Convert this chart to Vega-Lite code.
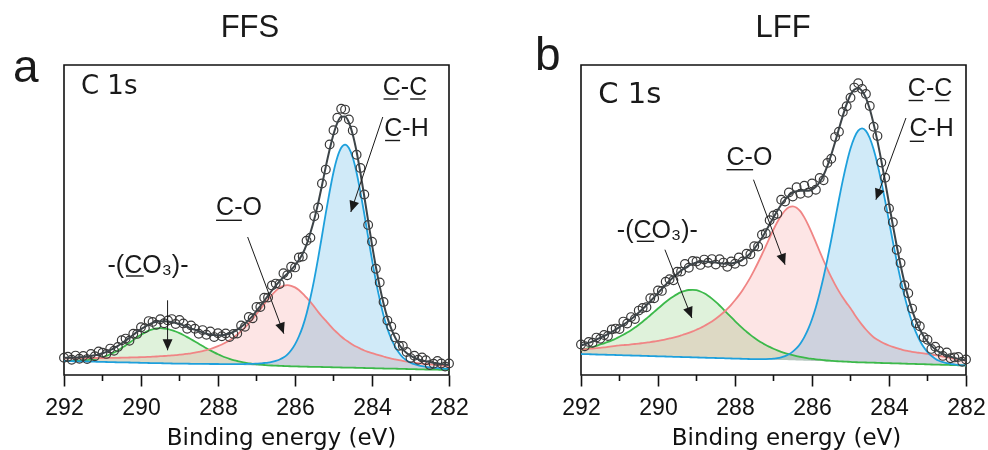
{
"$schema": "https://vega.github.io/schema/vega-lite/v6.json",
"background": "white",
"padding": {"left": 12, "top": 11, "right": 0, "bottom": 0},
"autosize": {"type": "pad"},
"bounds": "flush",
"spacing": 132,
"config": {
  "font": "Liberation Sans",
  "view": {"stroke": "#111111", "strokeWidth": 1.6},
  "axis": {"labelFont": "Liberation Sans", "titleFont": "DejaVu Sans"}
},
"datasets": {
"curves": [
{"p":"a","E":282.0,"bg":5.0,"cc":6.0,"co":9.0,"co3":5.0,"env":10.0,"pt":11.5},
{"p":"a","E":282.1,"bg":5.1,"cc":6.3,"co":9.3,"co3":5.1,"env":10.5,"pt":8.5},
{"p":"a","E":282.2,"bg":5.2,"cc":6.6,"co":9.7,"co3":5.2,"env":11.1,"pt":11.6},
{"p":"a","E":282.3,"bg":5.3,"cc":6.9,"co":10.0,"co3":5.3,"env":11.6,"pt":14.1},
{"p":"a","E":282.4,"bg":5.4,"cc":7.3,"co":10.4,"co3":5.4,"env":12.3,"pt":11.3},
{"p":"a","E":282.5,"bg":5.5,"cc":7.7,"co":10.7,"co3":5.5,"env":12.9,"pt":9.9},
{"p":"a","E":282.6,"bg":5.5,"cc":8.2,"co":11.0,"co3":5.5,"env":13.7,"pt":14.7},
{"p":"a","E":282.7,"bg":5.6,"cc":8.8,"co":11.4,"co3":5.6,"env":14.6,"pt":17.6},
{"p":"a","E":282.8,"bg":5.7,"cc":9.7,"co":11.8,"co3":5.7,"env":15.8,"pt":15.3},
{"p":"a","E":282.9,"bg":5.8,"cc":10.8,"co":12.3,"co3":5.8,"env":17.3,"pt":19.3},
{"p":"a","E":283.0,"bg":5.9,"cc":12.4,"co":12.9,"co3":5.9,"env":19.4,"pt":16.9},
{"p":"a","E":283.1,"bg":6.0,"cc":14.5,"co":13.5,"co3":6.0,"env":22.0,"pt":23.0},
{"p":"a","E":283.2,"bg":6.1,"cc":17.6,"co":14.1,"co3":6.1,"env":25.6,"pt":29.1},
{"p":"a","E":283.3,"bg":6.2,"cc":22.2,"co":14.8,"co3":6.2,"env":30.8,"pt":29.3},
{"p":"a","E":283.4,"bg":6.3,"cc":28.3,"co":15.6,"co3":6.3,"env":37.6,"pt":37.6},
{"p":"a","E":283.5,"bg":6.4,"cc":36.4,"co":16.4,"co3":6.4,"env":46.4,"pt":48.4},
{"p":"a","E":283.6,"bg":6.4,"cc":46.4,"co":17.4,"co3":6.4,"env":57.4,"pt":54.4},
{"p":"a","E":283.7,"bg":6.5,"cc":59.5,"co":18.5,"co3":6.5,"env":71.5,"pt":73.0},
{"p":"a","E":283.8,"bg":6.6,"cc":75.6,"co":19.6,"co3":6.6,"env":88.6,"pt":92.6},
{"p":"a","E":283.9,"bg":6.7,"cc":94.2,"co":20.7,"co3":6.7,"env":108.2,"pt":106.2},
{"p":"a","E":284.0,"bg":6.8,"cc":115.3,"co":21.8,"co3":6.8,"env":130.3,"pt":133.3},
{"p":"a","E":284.1,"bg":6.9,"cc":137.9,"co":23.1,"co3":6.9,"env":154.1,"pt":150.1},
{"p":"a","E":284.2,"bg":7.0,"cc":161.0,"co":24.5,"co3":7.0,"env":178.5,"pt":180.5},
{"p":"a","E":284.3,"bg":7.1,"cc":182.8,"co":26.3,"co3":7.1,"env":202.0,"pt":207.0},
{"p":"a","E":284.4,"bg":7.2,"cc":202.3,"co":28.2,"co3":7.2,"env":223.3,"pt":220.3},
{"p":"a","E":284.5,"bg":7.3,"cc":217.4,"co":30.3,"co3":7.3,"env":240.4,"pt":244.4},
{"p":"a","E":284.6,"bg":7.3,"cc":227.0,"co":32.8,"co3":7.3,"env":252.5,"pt":255.5},
{"p":"a","E":284.7,"bg":7.4,"cc":230.4,"co":35.4,"co3":7.4,"env":258.4,"pt":265.4},
{"p":"a","E":284.8,"bg":7.5,"cc":227.2,"co":38.5,"co3":7.5,"env":258.2,"pt":266.2},
{"p":"a","E":284.9,"bg":7.6,"cc":217.7,"co":42.1,"co3":7.6,"env":252.2,"pt":257.2},
{"p":"a","E":285.0,"bg":7.7,"cc":202.8,"co":45.7,"co3":7.7,"env":240.8,"pt":244.8},
{"p":"a","E":285.1,"bg":7.8,"cc":183.5,"co":49.8,"co3":7.8,"env":225.5,"pt":230.5},
{"p":"a","E":285.2,"bg":7.9,"cc":161.9,"co":54.4,"co3":7.9,"env":208.4,"pt":205.4},
{"p":"a","E":285.3,"bg":8.0,"cc":139.0,"co":58.5,"co3":8.0,"env":189.5,"pt":191.5},
{"p":"a","E":285.4,"bg":8.1,"cc":116.6,"co":63.1,"co3":8.1,"env":171.6,"pt":167.6},
{"p":"a","E":285.5,"bg":8.2,"cc":95.7,"co":68.2,"co3":8.2,"env":155.7,"pt":158.7},
{"p":"a","E":285.6,"bg":8.2,"cc":77.2,"co":73.2,"co3":8.2,"env":142.2,"pt":137.2},
{"p":"a","E":285.7,"bg":8.3,"cc":61.3,"co":77.3,"co3":8.3,"env":130.3,"pt":134.3},
{"p":"a","E":285.8,"bg":8.4,"cc":48.4,"co":81.4,"co3":8.4,"env":121.4,"pt":118.4},
{"p":"a","E":285.9,"bg":8.5,"cc":38.5,"co":85.0,"co3":8.5,"env":115.0,"pt":117.5},
{"p":"a","E":286.0,"bg":8.6,"cc":30.6,"co":87.6,"co3":8.6,"env":109.6,"pt":107.6},
{"p":"a","E":286.1,"bg":8.7,"cc":24.7,"co":89.2,"co3":8.7,"env":105.2,"pt":108.2},
{"p":"a","E":286.2,"bg":8.8,"cc":20.3,"co":89.8,"co3":8.8,"env":101.3,"pt":99.8},
{"p":"a","E":286.3,"bg":8.9,"cc":17.4,"co":89.2,"co3":9.0,"env":97.8,"pt":101.8},
{"p":"a","E":286.4,"bg":9.0,"cc":15.5,"co":87.2,"co3":9.2,"env":93.9,"pt":90.9},
{"p":"a","E":286.5,"bg":9.1,"cc":14.1,"co":84.1,"co3":9.4,"env":89.4,"pt":91.4},
{"p":"a","E":286.6,"bg":9.1,"cc":13.1,"co":80.1,"co3":9.5,"env":84.5,"pt":89.5},
{"p":"a","E":286.7,"bg":9.2,"cc":12.4,"co":75.7,"co3":9.7,"env":79.4,"pt":77.4},
{"p":"a","E":286.8,"bg":9.3,"cc":12.0,"co":70.8,"co3":10.0,"env":74.2,"pt":77.2},
{"p":"a","E":286.9,"bg":9.4,"cc":11.6,"co":65.9,"co3":10.3,"env":69.0,"pt":68.0},
{"p":"a","E":287.0,"bg":9.5,"cc":11.4,"co":61.0,"co3":10.7,"env":64.1,"pt":68.1},
{"p":"a","E":287.1,"bg":9.6,"cc":11.2,"co":56.1,"co3":11.1,"env":59.2,"pt":56.7},
{"p":"a","E":287.2,"bg":9.7,"cc":11.1,"co":51.7,"co3":11.7,"env":55.1,"pt":58.1},
{"p":"a","E":287.3,"bg":9.8,"cc":11.0,"co":47.6,"co3":12.3,"env":51.3,"pt":48.3},
{"p":"a","E":287.4,"bg":9.9,"cc":10.9,"co":43.9,"co3":13.1,"env":48.1,"pt":49.6},
{"p":"a","E":287.5,"bg":10.0,"cc":10.9,"co":40.5,"co3":14.0,"env":45.4,"pt":41.4},
{"p":"a","E":287.6,"bg":10.0,"cc":10.8,"co":37.4,"co3":14.9,"env":43.1,"pt":41.1},
{"p":"a","E":287.7,"bg":10.1,"cc":10.8,"co":34.8,"co3":16.1,"env":41.5,"pt":38.0},
{"p":"a","E":287.8,"bg":10.2,"cc":10.9,"co":32.5,"co3":17.5,"env":40.5,"pt":41.5},
{"p":"a","E":287.9,"bg":10.3,"cc":10.9,"co":30.5,"co3":19.0,"env":39.8,"pt":38.8},
{"p":"a","E":288.0,"bg":10.4,"cc":11.0,"co":28.8,"co3":20.7,"env":39.7,"pt":41.7},
{"p":"a","E":288.1,"bg":10.5,"cc":11.0,"co":27.3,"co3":22.6,"env":39.9,"pt":37.9},
{"p":"a","E":288.2,"bg":10.6,"cc":11.0,"co":26.0,"co3":24.6,"env":40.5,"pt":43.5},
{"p":"a","E":288.3,"bg":10.7,"cc":11.1,"co":24.9,"co3":26.7,"env":41.3,"pt":40.3},
{"p":"a","E":288.4,"bg":10.8,"cc":11.1,"co":23.9,"co3":29.0,"env":42.4,"pt":44.9},
{"p":"a","E":288.5,"bg":10.9,"cc":11.2,"co":23.1,"co3":31.3,"env":43.8,"pt":41.3},
{"p":"a","E":288.6,"bg":10.9,"cc":11.2,"co":22.3,"co3":33.5,"env":45.2,"pt":46.2},
{"p":"a","E":288.7,"bg":11.0,"cc":11.2,"co":21.7,"co3":35.7,"env":46.6,"pt":49.6},
{"p":"a","E":288.8,"bg":11.1,"cc":11.3,"co":21.2,"co3":37.9,"env":48.2,"pt":46.2},
{"p":"a","E":288.9,"bg":11.2,"cc":11.3,"co":20.7,"co3":40.0,"env":49.6,"pt":51.6},
{"p":"a","E":289.0,"bg":11.3,"cc":11.4,"co":20.3,"co3":41.9,"env":51.0,"pt":55.0},
{"p":"a","E":289.1,"bg":11.4,"cc":11.4,"co":19.9,"co3":43.5,"env":52.0,"pt":51.0},
{"p":"a","E":289.2,"bg":11.5,"cc":11.5,"co":19.6,"co3":44.8,"env":52.9,"pt":55.9},
{"p":"a","E":289.3,"bg":11.6,"cc":11.6,"co":19.3,"co3":45.9,"env":53.6,"pt":54.6},
{"p":"a","E":289.4,"bg":11.7,"cc":11.7,"co":19.0,"co3":46.5,"env":53.8,"pt":51.8},
{"p":"a","E":289.5,"bg":11.8,"cc":11.8,"co":18.8,"co3":46.8,"env":53.8,"pt":55.8},
{"p":"a","E":289.6,"bg":11.8,"cc":11.8,"co":18.5,"co3":46.5,"env":53.2,"pt":50.2},
{"p":"a","E":289.7,"bg":11.9,"cc":11.9,"co":18.3,"co3":45.7,"env":52.1,"pt":53.1},
{"p":"a","E":289.8,"bg":12.0,"cc":12.0,"co":18.1,"co3":44.3,"env":50.4,"pt":53.9},
{"p":"a","E":289.9,"bg":12.1,"cc":12.1,"co":17.9,"co3":42.4,"env":48.2,"pt":46.7},
{"p":"a","E":290.0,"bg":12.2,"cc":12.2,"co":17.8,"co3":40.2,"env":45.8,"pt":47.8},
{"p":"a","E":290.1,"bg":12.3,"cc":12.3,"co":17.7,"co3":37.7,"env":43.1,"pt":41.1},
{"p":"a","E":290.2,"bg":12.4,"cc":12.4,"co":17.6,"co3":35.0,"env":40.2,"pt":41.2},
{"p":"a","E":290.3,"bg":12.5,"cc":12.5,"co":17.5,"co3":32.3,"env":37.3,"pt":34.3},
{"p":"a","E":290.4,"bg":12.6,"cc":12.6,"co":17.4,"co3":29.6,"env":34.4,"pt":36.4},
{"p":"a","E":290.5,"bg":12.7,"cc":12.7,"co":17.3,"co3":27.1,"env":31.7,"pt":34.7},
{"p":"a","E":290.6,"bg":12.7,"cc":12.7,"co":17.2,"co3":24.6,"env":29.1,"pt":28.1},
{"p":"a","E":290.7,"bg":12.8,"cc":12.8,"co":17.1,"co3":22.5,"env":26.8,"pt":24.3},
{"p":"a","E":290.8,"bg":12.9,"cc":12.9,"co":17.1,"co3":20.7,"env":24.9,"pt":26.4},
{"p":"a","E":290.9,"bg":13.0,"cc":13.0,"co":17.0,"co3":19.1,"env":23.1,"pt":21.1},
{"p":"a","E":291.0,"bg":13.1,"cc":13.1,"co":17.0,"co3":17.8,"env":21.7,"pt":22.2},
{"p":"a","E":291.1,"bg":13.2,"cc":13.2,"co":17.0,"co3":16.8,"env":20.6,"pt":23.6},
{"p":"a","E":291.2,"bg":13.3,"cc":13.3,"co":17.0,"co3":16.0,"env":19.7,"pt":18.7},
{"p":"a","E":291.3,"bg":13.4,"cc":13.4,"co":17.0,"co3":15.4,"env":19.0,"pt":21.0},
{"p":"a","E":291.4,"bg":13.5,"cc":13.5,"co":17.0,"co3":14.9,"env":18.4,"pt":15.9},
{"p":"a","E":291.5,"bg":13.6,"cc":13.6,"co":17.0,"co3":14.6,"env":18.0,"pt":19.0},
{"p":"a","E":291.6,"bg":13.6,"cc":13.6,"co":16.9,"co3":14.4,"env":17.7,"pt":16.2},
{"p":"a","E":291.7,"bg":13.7,"cc":13.7,"co":16.9,"co3":14.2,"env":17.4,"pt":19.4},
{"p":"a","E":291.8,"bg":13.8,"cc":13.8,"co":16.9,"co3":14.2,"env":17.3,"pt":15.3},
{"p":"a","E":291.9,"bg":13.9,"cc":13.9,"co":16.9,"co3":14.2,"env":17.2,"pt":18.2},
{"p":"a","E":292.0,"bg":14.0,"cc":14.0,"co":17.0,"co3":14.2,"env":17.2,"pt":17.2},
{"p":"b","E":282.0,"bg":9.5,"cc":9.6,"co":14.5,"co3":9.5,"env":14.6,"pt":15.6},
{"p":"b","E":282.1,"bg":9.6,"cc":9.8,"co":15.1,"co3":9.6,"env":15.3,"pt":13.3},
{"p":"b","E":282.2,"bg":9.7,"cc":10.1,"co":15.7,"co3":9.7,"env":16.1,"pt":18.1},
{"p":"b","E":282.3,"bg":9.9,"cc":10.6,"co":16.4,"co3":9.9,"env":17.1,"pt":17.6},
{"p":"b","E":282.4,"bg":10.0,"cc":11.1,"co":17.1,"co3":10.0,"env":18.2,"pt":16.7},
{"p":"b","E":282.5,"bg":10.1,"cc":11.8,"co":17.8,"co3":10.1,"env":19.5,"pt":22.5},
{"p":"b","E":282.6,"bg":10.2,"cc":12.8,"co":18.5,"co3":10.2,"env":21.1,"pt":19.1},
{"p":"b","E":282.7,"bg":10.3,"cc":14.2,"co":19.2,"co3":10.3,"env":23.1,"pt":24.1},
{"p":"b","E":282.8,"bg":10.4,"cc":16.3,"co":19.8,"co3":10.4,"env":25.7,"pt":28.2},
{"p":"b","E":282.9,"bg":10.5,"cc":19.2,"co":20.4,"co3":10.5,"env":29.1,"pt":26.1},
{"p":"b","E":283.0,"bg":10.7,"cc":22.9,"co":21.1,"co3":10.7,"env":33.3,"pt":35.3},
{"p":"b","E":283.1,"bg":10.8,"cc":27.9,"co":21.6,"co3":10.8,"env":38.7,"pt":37.7},
{"p":"b","E":283.2,"bg":10.9,"cc":34.5,"co":22.1,"co3":10.9,"env":45.7,"pt":48.7},
{"p":"b","E":283.3,"bg":11.0,"cc":42.6,"co":22.6,"co3":11.0,"env":54.2,"pt":51.7},
{"p":"b","E":283.4,"bg":11.1,"cc":52.8,"co":23.2,"co3":11.1,"env":64.9,"pt":66.4},
{"p":"b","E":283.5,"bg":11.2,"cc":65.0,"co":23.9,"co3":11.2,"env":77.7,"pt":81.7},
{"p":"b","E":283.6,"bg":11.3,"cc":79.4,"co":24.7,"co3":11.3,"env":92.8,"pt":89.8},
{"p":"b","E":283.7,"bg":11.5,"cc":95.7,"co":25.8,"co3":11.5,"env":110.0,"pt":112.0},
{"p":"b","E":283.8,"bg":11.6,"cc":113.9,"co":26.9,"co3":11.6,"env":129.2,"pt":125.2},
{"p":"b","E":283.9,"bg":11.7,"cc":133.4,"co":28.1,"co3":11.7,"env":149.8,"pt":152.8},
{"p":"b","E":284.0,"bg":11.8,"cc":153.8,"co":29.5,"co3":11.8,"env":171.5,"pt":166.5},
{"p":"b","E":284.1,"bg":11.9,"cc":174.1,"co":31.1,"co3":11.9,"env":193.3,"pt":197.3},
{"p":"b","E":284.2,"bg":12.0,"cc":193.4,"co":33.0,"co3":12.0,"env":214.4,"pt":212.4},
{"p":"b","E":284.3,"bg":12.2,"cc":210.9,"co":35.2,"co3":12.2,"env":233.9,"pt":238.9},
{"p":"b","E":284.4,"bg":12.3,"cc":225.7,"co":37.8,"co3":12.3,"env":251.2,"pt":248.2},
{"p":"b","E":284.5,"bg":12.4,"cc":237.0,"co":41.4,"co3":12.4,"env":266.0,"pt":269.0},
{"p":"b","E":284.6,"bg":12.5,"cc":244.1,"co":45.5,"co3":12.5,"env":277.1,"pt":281.1},
{"p":"b","E":284.7,"bg":12.6,"cc":246.6,"co":50.1,"co3":12.6,"env":284.1,"pt":286.1},
{"p":"b","E":284.8,"bg":12.7,"cc":244.3,"co":55.2,"co3":12.7,"env":286.8,"pt":291.8},
{"p":"b","E":284.9,"bg":12.8,"cc":237.4,"co":60.8,"co3":12.8,"env":285.4,"pt":287.4},
{"p":"b","E":285.0,"bg":13.0,"cc":226.4,"co":66.8,"co3":13.1,"env":280.3,"pt":277.3},
{"p":"b","E":285.1,"bg":13.1,"cc":211.8,"co":71.9,"co3":13.3,"env":270.8,"pt":268.8},
{"p":"b","E":285.2,"bg":13.2,"cc":194.6,"co":77.4,"co3":13.5,"env":259.1,"pt":263.1},
{"p":"b","E":285.3,"bg":13.3,"cc":175.5,"co":83.6,"co3":13.7,"env":246.2,"pt":243.2},
{"p":"b","E":285.4,"bg":13.4,"cc":155.4,"co":90.4,"co3":13.9,"env":232.9,"pt":237.9},
{"p":"b","E":285.5,"bg":13.5,"cc":135.2,"co":97.8,"co3":14.2,"env":220.2,"pt":216.2},
{"p":"b","E":285.6,"bg":13.6,"cc":115.9,"co":105.9,"co3":14.5,"env":209.1,"pt":212.1},
{"p":"b","E":285.7,"bg":13.8,"cc":98.0,"co":114.5,"co3":14.9,"env":199.8,"pt":194.8},
{"p":"b","E":285.8,"bg":13.9,"cc":82.0,"co":123.5,"co3":15.3,"env":193.0,"pt":197.0},
{"p":"b","E":285.9,"bg":14.0,"cc":67.8,"co":132.7,"co3":15.7,"env":188.2,"pt":185.2},
{"p":"b","E":286.0,"bg":14.1,"cc":55.8,"co":141.7,"co3":16.2,"env":185.5,"pt":191.5},
{"p":"b","E":286.1,"bg":14.2,"cc":45.8,"co":150.2,"co3":16.7,"env":184.3,"pt":182.3},
{"p":"b","E":286.2,"bg":14.3,"cc":37.9,"co":157.6,"co3":17.3,"env":184.2,"pt":189.2},
{"p":"b","E":286.3,"bg":14.5,"cc":31.6,"co":163.6,"co3":18.1,"env":184.3,"pt":181.3},
{"p":"b","E":286.4,"bg":14.6,"cc":26.8,"co":167.3,"co3":18.9,"env":183.8,"pt":187.8},
{"p":"b","E":286.5,"bg":14.7,"cc":23.4,"co":168.7,"co3":19.8,"env":182.5,"pt":178.5},
{"p":"b","E":286.6,"bg":14.8,"cc":20.7,"co":167.7,"co3":20.8,"env":179.6,"pt":182.6},
{"p":"b","E":286.7,"bg":14.9,"cc":18.8,"co":164.5,"co3":21.9,"env":175.4,"pt":173.4},
{"p":"b","E":286.8,"bg":15.0,"cc":17.6,"co":159.5,"co3":23.2,"env":170.3,"pt":175.3},
{"p":"b","E":286.9,"bg":15.1,"cc":16.8,"co":153.0,"co3":24.6,"env":164.2,"pt":161.2},
{"p":"b","E":287.0,"bg":15.3,"cc":16.4,"co":145.5,"co3":26.3,"env":157.6,"pt":159.6},
{"p":"b","E":287.1,"bg":15.4,"cc":16.1,"co":137.3,"co3":28.1,"env":150.7,"pt":154.7},
{"p":"b","E":287.2,"bg":15.5,"cc":15.9,"co":128.9,"co3":30.0,"env":143.8,"pt":141.8},
{"p":"b","E":287.3,"bg":15.6,"cc":15.8,"co":120.5,"co3":32.2,"env":137.3,"pt":140.3},
{"p":"b","E":287.4,"bg":15.7,"cc":15.8,"co":112.5,"co3":34.6,"env":131.5,"pt":128.5},
{"p":"b","E":287.5,"bg":15.8,"cc":15.8,"co":104.8,"co3":37.2,"env":126.2,"pt":128.7},
{"p":"b","E":287.6,"bg":15.9,"cc":15.9,"co":97.6,"co3":40.1,"env":121.8,"pt":120.8},
{"p":"b","E":287.7,"bg":16.1,"cc":16.1,"co":91.1,"co3":43.3,"env":118.3,"pt":121.3},
{"p":"b","E":287.8,"bg":16.2,"cc":16.2,"co":85.1,"co3":46.6,"env":115.5,"pt":113.5},
{"p":"b","E":287.9,"bg":16.3,"cc":16.3,"co":79.6,"co3":50.2,"env":113.5,"pt":117.5},
{"p":"b","E":288.0,"bg":16.4,"cc":16.4,"co":74.7,"co3":53.9,"env":112.2,"pt":111.2},
{"p":"b","E":288.1,"bg":16.5,"cc":16.5,"co":70.2,"co3":57.8,"env":111.5,"pt":113.5},
{"p":"b","E":288.2,"bg":16.6,"cc":16.6,"co":66.1,"co3":61.7,"env":111.2,"pt":108.2},
{"p":"b","E":288.3,"bg":16.8,"cc":16.8,"co":62.5,"co3":65.7,"env":111.4,"pt":112.4},
{"p":"b","E":288.4,"bg":16.9,"cc":16.9,"co":59.2,"co3":69.5,"env":111.8,"pt":115.8},
{"p":"b","E":288.5,"bg":17.0,"cc":17.0,"co":56.3,"co3":73.1,"env":112.4,"pt":110.4},
{"p":"b","E":288.6,"bg":17.1,"cc":17.1,"co":53.6,"co3":76.4,"env":112.9,"pt":115.9},
{"p":"b","E":288.7,"bg":17.2,"cc":17.2,"co":51.2,"co3":79.3,"env":113.3,"pt":112.3},
{"p":"b","E":288.8,"bg":17.3,"cc":17.3,"co":49.0,"co3":81.7,"env":113.4,"pt":115.4},
{"p":"b","E":288.9,"bg":17.4,"cc":17.4,"co":47.0,"co3":83.5,"env":113.1,"pt":110.1},
{"p":"b","E":289.0,"bg":17.6,"cc":17.6,"co":45.3,"co3":84.8,"env":112.5,"pt":113.5},
{"p":"b","E":289.1,"bg":17.7,"cc":17.7,"co":43.6,"co3":85.2,"env":111.1,"pt":114.1},
{"p":"b","E":289.2,"bg":17.8,"cc":17.8,"co":42.1,"co3":85.0,"env":109.3,"pt":107.3},
{"p":"b","E":289.3,"bg":17.9,"cc":17.9,"co":40.8,"co3":84.2,"env":107.1,"pt":111.1},
{"p":"b","E":289.4,"bg":18.0,"cc":18.0,"co":39.6,"co3":82.8,"env":104.4,"pt":103.4},
{"p":"b","E":289.5,"bg":18.1,"cc":18.1,"co":38.4,"co3":80.9,"env":101.2,"pt":103.2},
{"p":"b","E":289.6,"bg":18.2,"cc":18.2,"co":37.4,"co3":78.6,"env":97.8,"pt":94.8},
{"p":"b","E":289.7,"bg":18.4,"cc":18.4,"co":36.6,"co3":76.0,"env":94.2,"pt":95.7},
{"p":"b","E":289.8,"bg":18.5,"cc":18.5,"co":35.7,"co3":73.0,"env":90.2,"pt":93.2},
{"p":"b","E":289.9,"bg":18.6,"cc":18.6,"co":34.9,"co3":69.8,"env":86.1,"pt":84.1},
{"p":"b","E":290.0,"bg":18.7,"cc":18.7,"co":34.2,"co3":66.5,"env":82.0,"pt":84.5},
{"p":"b","E":290.1,"bg":18.8,"cc":18.8,"co":33.5,"co3":63.1,"env":77.8,"pt":76.8},
{"p":"b","E":290.2,"bg":18.9,"cc":18.9,"co":32.9,"co3":59.7,"env":73.7,"pt":76.7},
{"p":"b","E":290.3,"bg":19.1,"cc":19.1,"co":32.4,"co3":56.5,"env":69.8,"pt":67.8},
{"p":"b","E":290.4,"bg":19.2,"cc":19.2,"co":31.9,"co3":53.3,"env":66.0,"pt":67.0},
{"p":"b","E":290.5,"bg":19.3,"cc":19.3,"co":31.4,"co3":50.3,"env":62.4,"pt":64.4},
{"p":"b","E":290.6,"bg":19.4,"cc":19.4,"co":31.0,"co3":47.4,"env":59.0,"pt":56.0},
{"p":"b","E":290.7,"bg":19.5,"cc":19.5,"co":30.6,"co3":44.8,"env":55.9,"pt":57.9},
{"p":"b","E":290.8,"bg":19.6,"cc":19.6,"co":30.2,"co3":42.4,"env":53.0,"pt":51.5},
{"p":"b","E":290.9,"bg":19.7,"cc":19.7,"co":29.9,"co3":40.2,"env":50.4,"pt":53.4},
{"p":"b","E":291.0,"bg":19.9,"cc":19.9,"co":29.6,"co3":38.2,"env":47.9,"pt":45.9},
{"p":"b","E":291.1,"bg":20.0,"cc":20.0,"co":29.1,"co3":36.3,"env":45.4,"pt":46.4},
{"p":"b","E":291.2,"bg":20.1,"cc":20.1,"co":28.6,"co3":34.6,"env":43.1,"pt":45.6},
{"p":"b","E":291.3,"bg":20.2,"cc":20.2,"co":28.1,"co3":33.1,"env":41.0,"pt":39.0},
{"p":"b","E":291.4,"bg":20.3,"cc":20.3,"co":27.6,"co3":31.7,"env":39.0,"pt":40.0},
{"p":"b","E":291.5,"bg":20.4,"cc":20.4,"co":27.2,"co3":30.5,"env":37.3,"pt":36.3},
{"p":"b","E":291.6,"bg":20.5,"cc":20.5,"co":26.8,"co3":29.1,"env":35.4,"pt":37.4},
{"p":"b","E":291.7,"bg":20.7,"cc":20.7,"co":26.5,"co3":27.9,"env":33.7,"pt":32.2},
{"p":"b","E":291.8,"bg":20.8,"cc":20.8,"co":26.1,"co3":26.8,"env":32.1,"pt":33.1},
{"p":"b","E":291.9,"bg":20.9,"cc":20.9,"co":25.8,"co3":25.8,"env":30.7,"pt":28.7},
{"p":"b","E":292.0,"bg":21.0,"cc":21.0,"co":25.5,"co3":25.0,"env":29.5,"pt":30.5}
],
"ann": [
{"p":"a","k":"lab","txt":"C-C","E":283.72,"I":280},
{"p":"a","k":"lab","txt":"C-H","E":283.68,"I":239.5},
{"p":"a","k":"lab","txt":"C-O","E":288.05,"I":159.7},
{"p":"a","k":"lab","txt":"-(CO₃)-","E":290.87,"I":102},
{"p":"a","k":"c1s","txt":"C 1s","E":291.56,"I":281.3},
{"p":"a","k":"title","txt":"FFS","E":287.17,"I":338},
{"p":"a","k":"letter","txt":"a","E":293.325,"I":293},
{"p":"b","k":"lab","txt":"C-C","E":283.51,"I":278.7},
{"p":"b","k":"lab","txt":"C-H","E":283.47,"I":238.7},
{"p":"b","k":"lab","txt":"C-O","E":288.22,"I":210.3},
{"p":"b","k":"lab","txt":"-(CO₃)-","E":291.07,"I":137},
{"p":"b","k":"c1s","txt":"C 1s","E":291.55,"I":272},
{"p":"b","k":"title","txt":"LFF","E":286.75,"I":338},
{"p":"b","k":"letter","txt":"b","E":293.195,"I":305}
],
"arrows": [
{"p":"a","id":"ch","E":283.72,"I":258,"E2":284.55,"I2":163},
{"p":"a","id":"co","E":287.23,"I":138,"E2":286.29,"I2":41.3},
{"p":"a","id":"co3","E":289.31,"I":74.7,"E2":289.31,"I2":24.7},
{"p":"b","id":"ch","E":283.56,"I":257,"E2":284.34,"I2":175.3},
{"p":"b","id":"co","E":287.52,"I":195.3,"E2":286.70,"I2":110.3},
{"p":"b","id":"co3","E":289.82,"I":125.3,"E2":289.12,"I2":57}
],
"ul": [
{"p":"a","E":283.70,"E2":283.32,"I":276},
{"p":"a","E":283.01,"E2":282.62,"I":276},
{"p":"a","E":283.66,"E2":283.27,"I":234.5},
{"p":"a","E":288.05,"E2":287.38,"I":154.7},
{"p":"a","E":290.39,"E2":289.93,"I":99},
{"p":"b","E":283.49,"E2":283.12,"I":274.5},
{"p":"b","E":282.81,"E2":282.43,"I":274.5},
{"p":"b","E":283.46,"E2":283.09,"I":233.7},
{"p":"b","E":288.22,"E2":287.53,"I":205.3},
{"p":"b","E":290.55,"E2":290.10,"I":133.7}
],
"minor": [{"E":283},{"E":285},{"E":287},{"E":289},{"E":291}]
},
"hconcat": [
{
"width": 385, "height": 310,
"encoding": {
  "x": {"field": "E", "type": "quantitative",
    "scale": {"domain": [282, 292], "reverse": true, "nice": false, "zero": false},
    "axis": {"values": [282, 284, 286, 288, 290, 292], "format": "d", "domain": false, "grid": false,
      "tickSize": 11, "tickWidth": 1.6, "tickColor": "#111111",
      "labelFontSize": 23, "labelColor": "#111111", "labelFlush": false, "labelOverlap": false, "labelBound": false,
      "labelBaseline": "alphabetic", "labelPadding": 28,
      "title": "Binding energy (eV)", "titleFontSize": 23, "titleFontWeight": "normal", "titleColor": "#111111",
      "titleX": 217, "titleY": 69, "titleBaseline": "alphabetic", "titleAlign": "center", "titleAngle": 0}}
},
"layer": [
{"data": {"name": "curves"}, "transform": [{"filter": "datum.p === 'a'"}],
 "mark": {"type": "area", "color": "#dff2db", "blend": "multiply", "interpolate": "monotone"},
 "encoding": {"y": {"field": "co3", "type": "quantitative", "scale": {"domain": [0, 310], "nice": false, "zero": false}, "axis": null}, "y2": {"field": "bg"}}},
{"data": {"name": "curves"}, "transform": [{"filter": "datum.p === 'a'"}],
 "mark": {"type": "area", "color": "#fde5e5", "blend": "multiply", "interpolate": "monotone"},
 "encoding": {"y": {"field": "co", "type": "quantitative", "scale": {"domain": [0, 310], "nice": false, "zero": false}, "axis": null}, "y2": {"field": "bg"}}},
{"data": {"name": "curves"}, "transform": [{"filter": "datum.p === 'a'"}],
 "mark": {"type": "area", "color": "#d0eaf8", "blend": "multiply", "interpolate": "monotone"},
 "encoding": {"y": {"field": "cc", "type": "quantitative", "scale": {"domain": [0, 310], "nice": false, "zero": false}, "axis": null}, "y2": {"field": "bg"}}},
{"data": {"name": "curves"}, "transform": [{"filter": "datum.p === 'a'"}],
 "mark": {"type": "line", "color": "#3cb94a", "strokeWidth": 1.8, "interpolate": "monotone"},
 "encoding": {"y": {"field": "co3", "type": "quantitative", "scale": {"domain": [0, 310], "nice": false, "zero": false}, "axis": null}}},
{"data": {"name": "curves"}, "transform": [{"filter": "datum.p === 'a'"}],
 "mark": {"type": "line", "color": "#f08585", "strokeWidth": 1.8, "interpolate": "monotone"},
 "encoding": {"y": {"field": "co", "type": "quantitative", "scale": {"domain": [0, 310], "nice": false, "zero": false}, "axis": null}}},
{"data": {"name": "curves"}, "transform": [{"filter": "datum.p === 'a'"}],
 "mark": {"type": "line", "color": "#1ea0dc", "strokeWidth": 1.8, "interpolate": "monotone"},
 "encoding": {"y": {"field": "cc", "type": "quantitative", "scale": {"domain": [0, 310], "nice": false, "zero": false}, "axis": null}}},
{"data": {"name": "curves"}, "transform": [{"filter": "datum.p === 'a'"}],
 "mark": {"type": "point", "shape": "circle", "filled": false, "size": 76, "color": "#383838", "strokeWidth": 1.2, "opacity": 1},
 "encoding": {"y": {"field": "pt", "type": "quantitative", "scale": {"domain": [0, 310], "nice": false, "zero": false}, "axis": null}}},
{"data": {"name": "curves"}, "transform": [{"filter": "datum.p === 'a'"}],
 "mark": {"type": "line", "color": "#3d4448", "strokeWidth": 2, "interpolate": "monotone"},
 "encoding": {"y": {"field": "env", "type": "quantitative", "scale": {"domain": [0, 310], "nice": false, "zero": false}, "axis": null}}},
{"data": {"name": "minor"},
 "mark": {"type": "rule", "color": "#111111", "strokeWidth": 1.6},
 "encoding": {"y": {"datum": 0, "type": "quantitative", "scale": {"domain": [0, 310], "nice": false, "zero": false}, "axis": null}, "y2": {"datum": -6}}},
{"data": {"name": "arrows"}, "transform": [{"filter": "datum.p === 'a'"}],
 "mark": {"type": "rule", "color": "#1a1a1a", "strokeWidth": 1},
 "encoding": {"x2": {"field": "E2"}, "y": {"field": "I", "type": "quantitative", "axis": null}, "y2": {"field": "I2"}}},
{"data": {"name": "arrows"}, "transform": [{"filter": "datum.p === 'a' && datum.id === 'ch'"}],
 "mark": {"type": "point", "shape": "M0,0L-0.45,-1L0.45,-1Z", "size": 484, "filled": true, "color": "#1a1a1a", "opacity": 1, "angle": 18.4},
 "encoding": {"x": {"field": "E2", "type": "quantitative"}, "y": {"field": "I2", "type": "quantitative", "axis": null}}},
{"data": {"name": "arrows"}, "transform": [{"filter": "datum.p === 'a' && datum.id === 'co'"}],
 "mark": {"type": "point", "shape": "M0,0L-0.45,-1L0.45,-1Z", "size": 484, "filled": true, "color": "#1a1a1a", "opacity": 1, "angle": -20.4},
 "encoding": {"x": {"field": "E2", "type": "quantitative"}, "y": {"field": "I2", "type": "quantitative", "axis": null}}},
{"data": {"name": "arrows"}, "transform": [{"filter": "datum.p === 'a' && datum.id === 'co3'"}],
 "mark": {"type": "point", "shape": "M0,0L-0.45,-1L0.45,-1Z", "size": 484, "filled": true, "color": "#1a1a1a", "opacity": 1, "angle": 0},
 "encoding": {"x": {"field": "E2", "type": "quantitative"}, "y": {"field": "I2", "type": "quantitative", "axis": null}}},
{"data": {"name": "ul"}, "transform": [{"filter": "datum.p === 'a'"}],
 "mark": {"type": "rule", "color": "#1a1a1a", "strokeWidth": 1.4},
 "encoding": {"x2": {"field": "E2"}, "y": {"field": "I", "type": "quantitative", "axis": null}}},
{"data": {"name": "ann"}, "transform": [{"filter": "datum.p === 'a' && datum.k === 'lab'"}],
 "mark": {"type": "text", "align": "left", "baseline": "alphabetic", "fontSize": 25, "font": "Liberation Sans", "color": "#1a1a1a"},
 "encoding": {"y": {"field": "I", "type": "quantitative", "axis": null}, "text": {"field": "txt"}}},
{"data": {"name": "ann"}, "transform": [{"filter": "datum.p === 'a' && datum.k === 'c1s'"}],
 "mark": {"type": "text", "align": "left", "baseline": "alphabetic", "fontSize": 26, "font": "DejaVu Sans", "color": "#1a1a1a"},
 "encoding": {"y": {"field": "I", "type": "quantitative", "axis": null}, "text": {"field": "txt"}}},
{"data": {"name": "ann"}, "transform": [{"filter": "datum.p === 'a' && datum.k === 'title'"}],
 "mark": {"type": "text", "align": "center", "baseline": "alphabetic", "fontSize": 31, "font": "Liberation Sans", "color": "#1a1a1a"},
 "encoding": {"y": {"field": "I", "type": "quantitative", "axis": null}, "text": {"field": "txt"}}},
{"data": {"name": "ann"}, "transform": [{"filter": "datum.p === 'a' && datum.k === 'letter'"}],
 "mark": {"type": "text", "align": "left", "baseline": "alphabetic", "fontSize": 46, "font": "Liberation Sans", "color": "#1a1a1a"},
 "encoding": {"y": {"field": "I", "type": "quantitative", "axis": null}, "text": {"field": "txt"}}}
]
},
{
"width": 385, "height": 310,
"encoding": {
  "x": {"field": "E", "type": "quantitative",
    "scale": {"domain": [282, 292], "reverse": true, "nice": false, "zero": false},
    "axis": {"values": [282, 284, 286, 288, 290, 292], "format": "d", "domain": false, "grid": false,
      "tickSize": 11, "tickWidth": 1.6, "tickColor": "#111111",
      "labelFontSize": 23, "labelColor": "#111111", "labelFlush": false, "labelOverlap": false, "labelBound": false,
      "labelBaseline": "alphabetic", "labelPadding": 28,
      "title": "Binding energy (eV)", "titleFontSize": 23, "titleFontWeight": "normal", "titleColor": "#111111",
      "titleX": 205, "titleY": 69, "titleBaseline": "alphabetic", "titleAlign": "center", "titleAngle": 0}}
},
"layer": [
{"data": {"name": "curves"}, "transform": [{"filter": "datum.p === 'b'"}],
 "mark": {"type": "area", "color": "#dff2db", "blend": "multiply", "interpolate": "monotone"},
 "encoding": {"y": {"field": "co3", "type": "quantitative", "scale": {"domain": [0, 310], "nice": false, "zero": false}, "axis": null}, "y2": {"field": "bg"}}},
{"data": {"name": "curves"}, "transform": [{"filter": "datum.p === 'b'"}],
 "mark": {"type": "area", "color": "#fde5e5", "blend": "multiply", "interpolate": "monotone"},
 "encoding": {"y": {"field": "co", "type": "quantitative", "scale": {"domain": [0, 310], "nice": false, "zero": false}, "axis": null}, "y2": {"field": "bg"}}},
{"data": {"name": "curves"}, "transform": [{"filter": "datum.p === 'b'"}],
 "mark": {"type": "area", "color": "#d0eaf8", "blend": "multiply", "interpolate": "monotone"},
 "encoding": {"y": {"field": "cc", "type": "quantitative", "scale": {"domain": [0, 310], "nice": false, "zero": false}, "axis": null}, "y2": {"field": "bg"}}},
{"data": {"name": "curves"}, "transform": [{"filter": "datum.p === 'b'"}],
 "mark": {"type": "line", "color": "#3cb94a", "strokeWidth": 1.8, "interpolate": "monotone"},
 "encoding": {"y": {"field": "co3", "type": "quantitative", "scale": {"domain": [0, 310], "nice": false, "zero": false}, "axis": null}}},
{"data": {"name": "curves"}, "transform": [{"filter": "datum.p === 'b'"}],
 "mark": {"type": "line", "color": "#f08585", "strokeWidth": 1.8, "interpolate": "monotone"},
 "encoding": {"y": {"field": "co", "type": "quantitative", "scale": {"domain": [0, 310], "nice": false, "zero": false}, "axis": null}}},
{"data": {"name": "curves"}, "transform": [{"filter": "datum.p === 'b'"}],
 "mark": {"type": "line", "color": "#1ea0dc", "strokeWidth": 1.8, "interpolate": "monotone"},
 "encoding": {"y": {"field": "cc", "type": "quantitative", "scale": {"domain": [0, 310], "nice": false, "zero": false}, "axis": null}}},
{"data": {"name": "curves"}, "transform": [{"filter": "datum.p === 'b'"}],
 "mark": {"type": "point", "shape": "circle", "filled": false, "size": 76, "color": "#383838", "strokeWidth": 1.2, "opacity": 1},
 "encoding": {"y": {"field": "pt", "type": "quantitative", "scale": {"domain": [0, 310], "nice": false, "zero": false}, "axis": null}}},
{"data": {"name": "curves"}, "transform": [{"filter": "datum.p === 'b'"}],
 "mark": {"type": "line", "color": "#3d4448", "strokeWidth": 2, "interpolate": "monotone"},
 "encoding": {"y": {"field": "env", "type": "quantitative", "scale": {"domain": [0, 310], "nice": false, "zero": false}, "axis": null}}},
{"data": {"name": "minor"},
 "mark": {"type": "rule", "color": "#111111", "strokeWidth": 1.6},
 "encoding": {"y": {"datum": 0, "type": "quantitative", "scale": {"domain": [0, 310], "nice": false, "zero": false}, "axis": null}, "y2": {"datum": -6}}},
{"data": {"name": "arrows"}, "transform": [{"filter": "datum.p === 'b'"}],
 "mark": {"type": "rule", "color": "#1a1a1a", "strokeWidth": 1},
 "encoding": {"x2": {"field": "E2"}, "y": {"field": "I", "type": "quantitative", "axis": null}, "y2": {"field": "I2"}}},
{"data": {"name": "arrows"}, "transform": [{"filter": "datum.p === 'b' && datum.id === 'ch'"}],
 "mark": {"type": "point", "shape": "M0,0L-0.45,-1L0.45,-1Z", "size": 484, "filled": true, "color": "#1a1a1a", "opacity": 1, "angle": 20.2},
 "encoding": {"x": {"field": "E2", "type": "quantitative"}, "y": {"field": "I2", "type": "quantitative", "axis": null}}},
{"data": {"name": "arrows"}, "transform": [{"filter": "datum.p === 'b' && datum.id === 'co'"}],
 "mark": {"type": "point", "shape": "M0,0L-0.45,-1L0.45,-1Z", "size": 484, "filled": true, "color": "#1a1a1a", "opacity": 1, "angle": -20.4},
 "encoding": {"x": {"field": "E2", "type": "quantitative"}, "y": {"field": "I2", "type": "quantitative", "axis": null}}},
{"data": {"name": "arrows"}, "transform": [{"filter": "datum.p === 'b' && datum.id === 'co3'"}],
 "mark": {"type": "point", "shape": "M0,0L-0.45,-1L0.45,-1Z", "size": 484, "filled": true, "color": "#1a1a1a", "opacity": 1, "angle": -21.4},
 "encoding": {"x": {"field": "E2", "type": "quantitative"}, "y": {"field": "I2", "type": "quantitative", "axis": null}}},
{"data": {"name": "ul"}, "transform": [{"filter": "datum.p === 'b'"}],
 "mark": {"type": "rule", "color": "#1a1a1a", "strokeWidth": 1.4},
 "encoding": {"x2": {"field": "E2"}, "y": {"field": "I", "type": "quantitative", "axis": null}}},
{"data": {"name": "ann"}, "transform": [{"filter": "datum.p === 'b' && datum.k === 'lab'"}],
 "mark": {"type": "text", "align": "left", "baseline": "alphabetic", "fontSize": 25, "font": "Liberation Sans", "color": "#1a1a1a"},
 "encoding": {"y": {"field": "I", "type": "quantitative", "axis": null}, "text": {"field": "txt"}}},
{"data": {"name": "ann"}, "transform": [{"filter": "datum.p === 'b' && datum.k === 'c1s'"}],
 "mark": {"type": "text", "align": "left", "baseline": "alphabetic", "fontSize": 29, "font": "DejaVu Sans", "color": "#1a1a1a"},
 "encoding": {"y": {"field": "I", "type": "quantitative", "axis": null}, "text": {"field": "txt"}}},
{"data": {"name": "ann"}, "transform": [{"filter": "datum.p === 'b' && datum.k === 'title'"}],
 "mark": {"type": "text", "align": "center", "baseline": "alphabetic", "fontSize": 31, "font": "Liberation Sans", "color": "#1a1a1a"},
 "encoding": {"y": {"field": "I", "type": "quantitative", "axis": null}, "text": {"field": "txt"}}},
{"data": {"name": "ann"}, "transform": [{"filter": "datum.p === 'b' && datum.k === 'letter'"}],
 "mark": {"type": "text", "align": "left", "baseline": "alphabetic", "fontSize": 46, "font": "Liberation Sans", "color": "#1a1a1a"},
 "encoding": {"y": {"field": "I", "type": "quantitative", "axis": null}, "text": {"field": "txt"}}}
]
}
]
}
